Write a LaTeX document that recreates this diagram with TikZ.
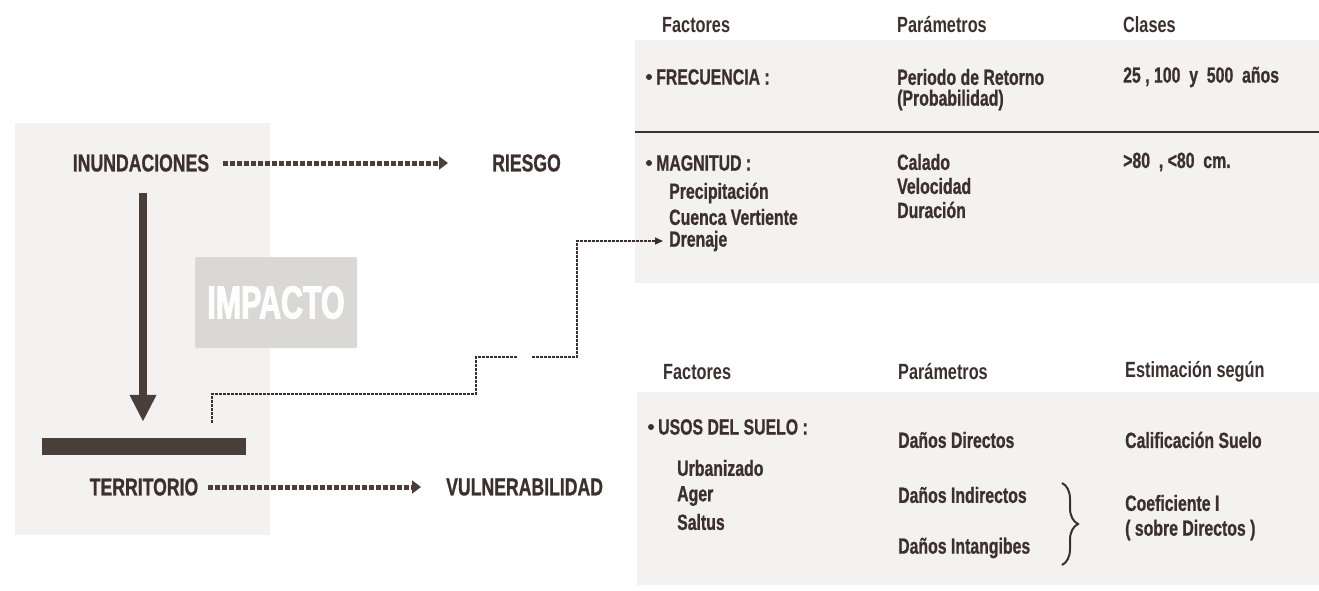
\documentclass[tikz,border=0pt]{standalone}
\usepackage{fontspec}
\setmainfont{Liberation Sans}[FakeStretch=0.74]
\newfontfamily\heavyfont{Liberation Sans}[FakeStretch=0.72,FakeBold=0.8]
\newfontfamily\impactfont{Liberation Sans}[FakeStretch=0.66,FakeBold=2.2]
\usetikzlibrary{arrows.meta,decorations.pathreplacing}
\definecolor{ink}{HTML}{3B302D}
\definecolor{arrowc}{HTML}{4A3E3A}
\definecolor{panel}{HTML}{F3F2F0}
\definecolor{impbox}{HTML}{DAD8D4}
\begin{document}
\begin{tikzpicture}[x=1pt,y=-1pt,
  big/.style={font=\heavyfont\fontsize{24.5}{28}\selectfont\bfseries, text=ink, inner sep=0pt},
  tab/.style={font=\heavyfont\fontsize{22}{25}\selectfont\bfseries, text=ink, inner sep=0pt, anchor=west},
  head/.style={font=\fontsize{22}{25}\selectfont\bfseries, text=ink, inner sep=0pt, anchor=west},
  panelbox/.style={fill=panel, draw=none, inner sep=0pt},
  fatdots/.style={draw=arrowc, line width=5pt, dash pattern=on 5pt off 2pt, -{Triangle[length=9pt,width=13pt]}},
  bigarrow/.style={draw=arrowc, line width=8pt, -{Triangle[length=27pt,width=25pt]}},
  conn/.style={draw=ink, line width=1.6pt, dash pattern=on 3pt off 1pt},
  conntip/.style={-{Triangle[length=8pt,width=7pt]}},
  bul/.style={circle, fill=ink, inner sep=0pt, minimum size=6pt}
]
\useasboundingbox (0,0) rectangle (1319,591);
\fill[white] (0,0) rectangle (1319,591);

% panels
\node[panelbox, minimum width=255pt, minimum height=412pt] (leftpanel) at (142.5,329) {};
\node[panelbox, minimum width=684pt, minimum height=243pt] (toppanel) at (977,161.5) {};
\node[panelbox, minimum width=682pt, minimum height=193pt] (botpanel) at (978,488.5) {};

% IMPACTO box
\node[fill=impbox, rounded corners=2pt, minimum width=162pt, minimum height=91pt, inner sep=0pt,
      text=white, font=\impactfont\bfseries\fontsize{46}{46}\selectfont] (impacto) at (276,302.5) {IMPACTO};

% left diagram
\node[big] (inund) at (141,163) {INUNDACIONES};
\node[big, anchor=west] (riesgo) at (492,163) {RIESGO};
\node[big] (terr) at (144,487) {TERRITORIO};
\node[big, anchor=west] (vuln) at (446,487) {VULNERABILIDAD};
\node[fill=arrowc, minimum width=204pt, minimum height=17pt, inner sep=0pt] (bar) at (144,446.5) {};

\draw[fatdots, shorten <=14pt, shorten >=44pt] (inund.east) -- (riesgo.west);
\draw[fatdots, shorten <=10pt, shorten >=25pt] (terr.east) -- (vuln.west);

\coordinate (vtop) at (143,193);
\draw[bigarrow, shorten >=16pt] (vtop) -- (vtop |- bar.north);

% top table
\node[head] (h1) at (662,25) {Factores};
\node[head] (h2) at (897,25) {Parámetros};
\node[head] (h3) at (1123,25) {Clases};

\node[bul] (b1) at (649,77) {};
\node[tab] (frec) at (656,77) {FRECUENCIA :};
\node[tab] (per) at (897,77) {Periodo de Retorno};
\node[tab] (prob) at (897,100) {(Probabilidad)};
\node[tab] (anios) at (1123,77) {25 , 100\ \ y\ \ 500\ \ años};

\draw[ink, line width=2pt] (toppanel.west |- 0,132) -- (toppanel.east |- 0,132);

\node[bul] (b2) at (649,163) {};
\node[tab] (magn) at (656,163) {MAGNITUD :};
\node[tab] (prec) at (669,193) {Precipitación};
\node[tab] (cuenca) at (669,217) {Cuenca Vertiente};
\node[tab] (dren) at (669,241) {Drenaje};
\node[tab] (calado) at (897,162) {Calado};
\node[tab] (veloc) at (897,186) {Velocidad};
\node[tab] (durac) at (897,210) {Duración};
\node[tab] (cm) at (1123,162) {>80\ \ ,\ <80\ \ cm.};

% bottom table
\node[head] (g1) at (663,372) {Factores};
\node[head] (g2) at (898,372) {Parámetros};
\node[head] (g3) at (1125,372) {Estimación según};

\node[bul] (b3) at (651,427) {};
\node[tab] (usos) at (658,427) {USOS DEL SUELO :};
\node[tab] (urb) at (677,468) {Urbanizado};
\node[tab] (ager) at (677,496) {Ager};
\node[tab] (saltus) at (677,522) {Saltus};
\node[tab] (ddir) at (898,440) {Daños Directos};
\node[tab] (dind) at (898,495) {Daños Indirectos};
\node[tab] (dint) at (898,548) {Daños Intangibes};
\node[tab] (calif) at (1125,440) {Calificación Suelo};
\node[tab] (coef) at (1125,503) {Coeficiente I};
\node[tab] (sobre) at (1125,530) {( sobre Directos )};

\coordinate (brtop) at (1062,483);
\coordinate (brbot) at (1062,565);
\draw[ink, line width=2pt, decorate, decoration={brace, amplitude=16pt, aspect=0.5}] (brtop) -- (brbot);

% connector from territorio to drenaje
\coordinate (c0) at (212,423);
\coordinate (c1) at (476,394);
\coordinate (gapA) at (518,357);
\coordinate (gapB) at (532,357);
\coordinate (c2) at (577,357);
\draw[conn] (c0) |- (c1) |- (gapA);
\draw[conn, conntip, shorten >=6pt] (gapB) -- (c2) |- (dren.west);
\end{tikzpicture}
\end{document}
